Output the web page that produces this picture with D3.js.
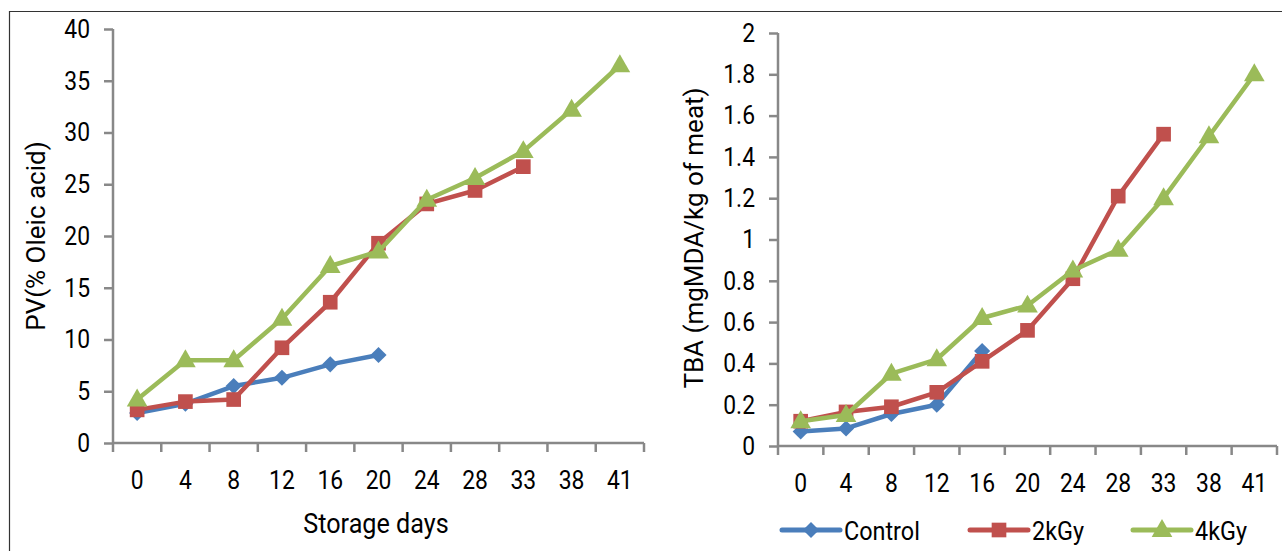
<!DOCTYPE html>
<html>
<head>
<meta charset="utf-8">
<script src="https://cdn.jsdelivr.net/npm/d3@7"></script>
<style>
    body { margin: 0; background: #fff; }
    text { font-family: Roboto, "Liberation Sans Narrow", Arial, sans-serif; fill: #000; }
</style>
</head>
<body>
<div id="chart"></div>
<script>
// storage days (categories on both charts)
const days = ["0", "4", "8", "12", "16", "20", "24", "28", "33", "38", "41"];

// peroxide value, % oleic acid
const pvControl = [2.9, 3.8, 5.5, 6.3, 7.6, 8.5];
const pv2kGy = [3.2, 4.0, 4.2, 9.2, 13.6, 19.3, 23.1, 24.4, 26.7];
const pv4kGy = [4.2, 8.0, 8.0, 12.0, 17.1, 18.5, 23.5, 25.6, 28.2, 32.2, 36.5];

// TBA, mg MDA / kg of meat
const tbaControl = [0.07, 0.085, 0.155, 0.2, 0.46];
const tba2kGy = [0.12, 0.165, 0.19, 0.26, 0.41, 0.56, 0.81, 1.21, 1.51];
const tba4kGy = [0.12, 0.15, 0.35, 0.42, 0.62, 0.68, 0.85, 0.95, 1.2, 1.5, 1.8];

const pvTicks = [0, 5, 10, 15, 20, 25, 30, 35, 40];
const tbaTicks = [0, 0.2, 0.4, 0.6, 0.8, 1, 1.2, 1.4, 1.6, 1.8, 2];

const seriesNames = ["Control", "2kGy", "4kGy"];
const colors = { "Control": "#4a7ebb", "2kGy": "#c0504d", "4kGy": "#9bbb59" };

const width = 1282, height = 551;
const axisColor = "#888";
const squeeze = 0.88;   // the labels use a condensed face; narrow Roboto a bit

const svg = d3.select("#chart").append("svg")
    .attr("width", width)
    .attr("height", height)
    .style("display", "block");

svg.append("rect").attr("width", width).attr("height", height).attr("fill", "#fff");

// outer frame (only top and left edges are visible)
svg.append("path")
    .attr("d", `M9.5,${height} V11.5 H${width}`)
    .attr("fill", "none")
    .attr("stroke", "#333")
    .attr("stroke-width", 1.2);

function markerPath(name) {
    if (name === "Control") return d3.symbol(d3.symbolSquare, 130)();
    if (name === "2kGy") return d3.symbol(d3.symbolSquare, 215)();
    return d3.symbol(d3.symbolTriangle, 185)();
}
function markerTransform(name, x, y) {
    if (name === "Control") return `translate(${x},${y}) rotate(45)`;
    if (name === "4kGy") return `translate(${x},${y + 1})`;
    return `translate(${x},${y})`;
}

function drawPanel(opts) {
    const x = d3.scaleBand().domain(days).range([opts.left, opts.right]);
    const y = d3.scaleLinear().domain(opts.domain).range([opts.bottom, opts.top]);

    const g = svg.append("g");

    // y axis
    const yAxis = g.append("g")
        .attr("transform", `translate(${opts.left},0)`)
        .call(d3.axisLeft(y).tickValues(opts.ticks).tickSize(9).tickPadding(14)
            .tickFormat(opts.format));
    yAxis.select(".domain").attr("stroke", axisColor).attr("stroke-width", 2.5)
        .attr("d", `M0,${opts.top}V${opts.bottom}`);
    yAxis.selectAll(".tick line").attr("stroke", axisColor).attr("stroke-width", 2.5);
    yAxis.selectAll(".tick text")
        .attr("font-size", 26).attr("fill", "#000")
        .attr("x", -23 / squeeze)
        .attr("transform", `scale(${squeeze},1)`)
        .style("font-family", "Roboto, sans-serif");

    // x axis: ticks sit on band boundaries
    const xAxis = g.append("g")
        .attr("transform", `translate(0,${opts.bottom})`)
        .call(d3.axisBottom(x).tickSize(0).tickPadding(28));
    xAxis.select(".domain").attr("stroke", axisColor).attr("stroke-width", 2.5)
        .attr("d", `M${opts.left},0H${opts.right}`);
    xAxis.selectAll(".tick text")
        .attr("font-size", 26).attr("fill", "#000")
        .attr("transform", `scale(${squeeze},1)`)
        .style("font-family", "Roboto, sans-serif");
    const bounds = days.map(d => x(d)).concat([opts.right]);
    xAxis.selectAll(".bound").data(bounds).join("line")
        .attr("class", "bound")
        .attr("x1", d => d).attr("x2", d => d)
        .attr("y1", 0).attr("y2", 9)
        .attr("stroke", axisColor).attr("stroke-width", 2.5);

    // y axis title
    g.append("text")
        .attr("transform", `translate(${opts.titleX},${opts.titleY}) rotate(-90)`)
        .attr("text-anchor", "middle")
        .attr("font-size", 26)
        .text(opts.yTitle);

    const line = d3.line()
        .x((d, i) => x(days[i]) + x.bandwidth() / 2)
        .y(d => y(d));

    opts.series.forEach((vals, si) => {
        const name = seriesNames[si];
        const sg = g.append("g");
        sg.append("path")
            .datum(vals)
            .attr("d", line)
            .attr("fill", "none")
            .attr("stroke", colors[name])
            .attr("stroke-width", 4.5)
            .attr("stroke-linejoin", "round");
        sg.selectAll("path.mk").data(vals).join("path")
            .attr("class", "mk")
            .attr("d", markerPath(name))
            .attr("transform", (d, i) => markerTransform(name, x(days[i]) + x.bandwidth() / 2, y(d)))
            .attr("fill", colors[name]);
    });

    return { x, y };
}

drawPanel({
    left: 113, right: 644, top: 29, bottom: 443,
    domain: [0, 40], ticks: pvTicks, format: d3.format("d"),
    yTitle: "PV(% Oleic acid)", titleX: 45, titleY: 236,
    series: [pvControl, pv2kGy, pv4kGy]
});

drawPanel({
    left: 778, right: 1277, top: 33, bottom: 446,
    domain: [0, 2], ticks: tbaTicks, format: d => String(d),
    yTitle: "TBA  (mgMDA/kg of meat)", titleX: 703, titleY: 238,
    series: [tbaControl, tba2kGy, tba4kGy]
});

// x axis title for the left panel
svg.append("text")
    .attr("transform", `translate(376,533) scale(0.9,1)`)
    .attr("text-anchor", "middle")
    .attr("font-size", 28)
    .text("Storage days");

// legend under the right panel
const legendX = [782, 970, 1133];
const legend = svg.append("g").selectAll("g").data(seriesNames).join("g")
    .attr("transform", (d, i) => `translate(${legendX[i]},530)`);
legend.append("line")
    .attr("x1", 0).attr("x2", 58)
    .attr("stroke", d => colors[d])
    .attr("stroke-width", 5)
    .attr("stroke-linecap", "round");
legend.append("path")
    .attr("d", d => markerPath(d))
    .attr("transform", d => markerTransform(d, 29, 0))
    .attr("fill", d => colors[d]);
legend.append("text")
    .attr("x", 62 / 0.9)
    .attr("y", 10)
    .attr("transform", "scale(0.9,1)")
    .attr("font-size", 26)
    .text(d => d);
</script>
</body>
</html>
